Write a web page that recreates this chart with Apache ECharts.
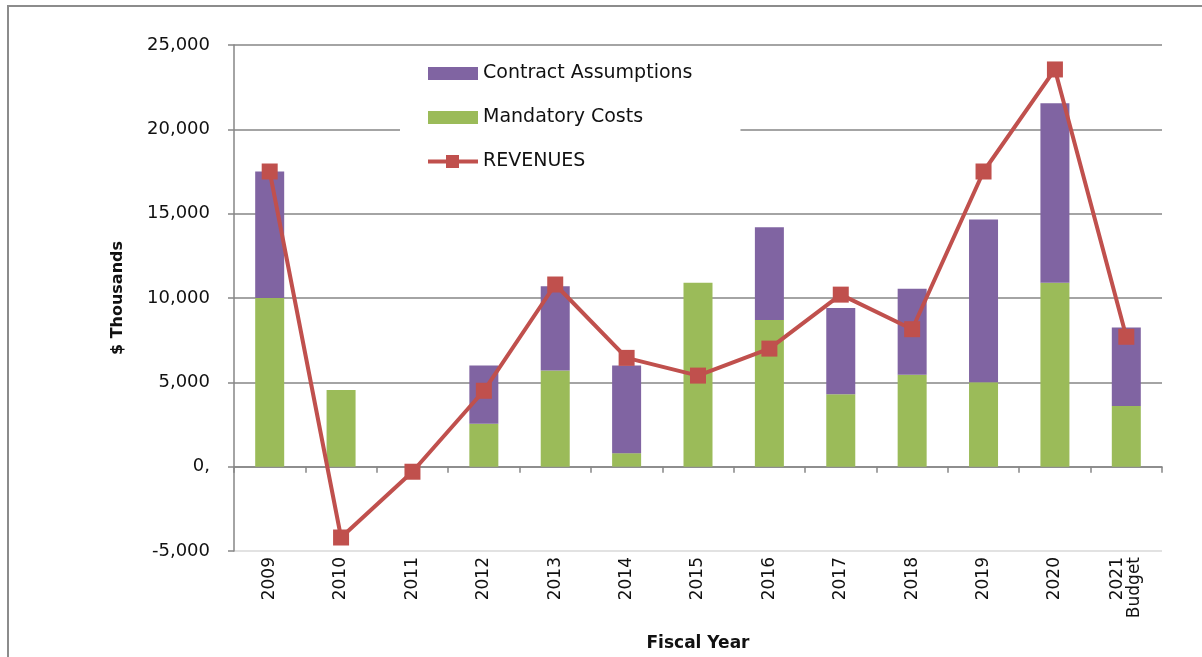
<!DOCTYPE html>
<html>
<head>
<meta charset="utf-8">
<title>Fiscal Year</title>
<script src="https://cdn.jsdelivr.net/npm/echarts@6/dist/echarts.min.js"></script>
<style>
    html, body { margin: 0; padding: 0; background: #fff; }
    #chart { width: 1202px; height: 657px; }
</style>
</head>
<body>
<div id="chart"></div>
<script>
// 数据
var years = ['2009', '2010', '2011', '2012', '2013', '2014', '2015', '2016', '2017', '2018', '2019', '2020', '2021\nBudget'];
var mandatory = [10000, 4550, 0, 2550, 5700, 800, 10900, 8700, 4300, 5450, 5000, 10900, 3600];
var contract = [7500, 0, 0, 3450, 5000, 5200, 0, 5500, 5100, 5100, 9650, 10650, 4650];
var revenues = [17500, -4200, -300, 4500, 10800, 6450, 5400, 7000, 10200, 8150, 17500, 23550, 7700];

var font = 'DejaVu Sans';

function fmt(v) {
    if (v === 0) return '0,';
    var s = String(Math.abs(v)).replace(/\B(?=(\d{3})+(?!\d))/g, ',');
    return (v < 0 ? '-' : '') + s;
}

// 图例里的折线+方块
var revIcon = 'path://M0,4.5 L18,4.5 L18,0 L31,0 L31,4.5 L50,4.5 L50,8.5 L31,8.5 L31,13 L18,13 L18,8.5 L0,8.5 Z';

var chart = echarts.init(document.getElementById('chart'));
var option = {
    backgroundColor: '#fff',
    animation: false,
    textStyle: { fontFamily: font },
    graphic: [{
        type: 'rect',
        shape: { x: 8, y: 6, width: 1300, height: 800 },
        style: { fill: 'none', stroke: '#8c8c8c', lineWidth: 2 },
        silent: true
    }],
    legend: {
        orient: 'vertical',
        left: 400,
        top: 52,
        padding: [12, 48, 12, 28],
        backgroundColor: '#fff',
        itemWidth: 50,
        itemHeight: 13,
        itemGap: 25,
        textStyle: { fontFamily: font, fontSize: 19, color: '#111' },
        data: [
            { name: 'Contract Assumptions', icon: 'rect' },
            { name: 'Mandatory Costs', icon: 'rect' },
            { name: 'REVENUES', icon: revIcon, itemStyle: { color: '#c0504d', borderWidth: 0 } }
        ]
    },
    grid: { left: 234, right: 40, top: 45, bottom: 106 },
    xAxis: [{
        // 底部标签
        type: 'category',
        data: years,
        position: 'bottom',
        axisLine: { show: false, onZero: false },
        axisTick: { show: false },
        axisLabel: { rotate: 90, margin: 6, fontSize: 17, color: '#111', fontFamily: font, interval: 0 },
        name: 'Fiscal Year',
        nameLocation: 'middle',
        nameGap: 84,
        nameTextStyle: { fontFamily: font, fontSize: 17, fontWeight: 'bold', color: '#111' }
    }, {
        // 零线
        type: 'category',
        data: years,
        position: 'bottom',
        axisLine: { onZero: true, lineStyle: { color: '#868686', width: 1.5 } },
        axisTick: { show: true, length: 6, interval: 0, lineStyle: { color: '#868686', width: 1.5 } },
        axisLabel: { show: false }
    }],
    yAxis: {
        type: 'value',
        min: -5000,
        max: 25000,
        interval: 5000,
        axisLine: { show: true, lineStyle: { color: '#868686', width: 1.5 } },
        axisTick: { show: true, length: 6, lineStyle: { color: '#868686', width: 1.5 } },
        axisLabel: { margin: 24, fontSize: 18, color: '#111', fontFamily: font, formatter: fmt },
        splitLine: {
            lineStyle: {
                color: ['#d9d9d9', '#868686', '#868686', '#868686', '#868686', '#868686', '#868686'],
                width: 1.5
            }
        },
        name: '$ Thousands',
        nameLocation: 'middle',
        nameGap: 108,
        nameTextStyle: { fontFamily: font, fontSize: 16, fontWeight: 'bold', color: '#111' }
    },
    series: [{
        name: 'Mandatory Costs',
        type: 'bar',
        stack: 'cost',
        barWidth: 29,
        itemStyle: { color: '#9bbb59' },
        data: mandatory
    }, {
        name: 'Contract Assumptions',
        type: 'bar',
        stack: 'cost',
        barWidth: 29,
        itemStyle: { color: '#8064a2' },
        data: contract
    }, {
        name: 'REVENUES',
        type: 'line',
        symbol: 'rect',
        symbolSize: 16,
        lineStyle: { color: '#c0504d', width: 4 },
        itemStyle: { color: '#c0504d' },
        data: revenues,
        z: 5
    }]
};
chart.setOption(option);
</script>
</body>
</html>
